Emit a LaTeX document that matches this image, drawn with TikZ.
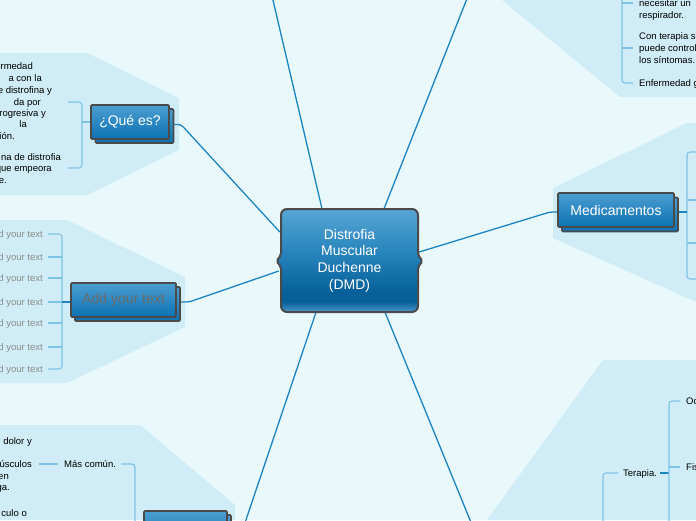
\documentclass[tikz,border=0pt]{standalone}
\usepackage{fontspec}
\setmainfont{Liberation Sans}
\usetikzlibrary{calc}
\definecolor{bgc}{HTML}{E9F9FB}
\definecolor{panel}{HTML}{D0ECF6}
\definecolor{conn}{HTML}{1C84C3}
\definecolor{brk}{HTML}{7FC3E4}
\definecolor{bord}{HTML}{4A4A4A}
\definecolor{boxtop}{HTML}{4C9ED0}
\definecolor{boxbot}{HTML}{0C72B3}
\definecolor{cband}{HTML}{4A98CA}
\definecolor{cdark}{HTML}{07609A}
\definecolor{cmid}{HTML}{2A86BE}
\definecolor{ctop}{HTML}{56A6D4}
\definecolor{addgray}{HTML}{6B6B6B}
\definecolor{itemgray}{HTML}{8C8C8C}
\pgfdeclareverticalshading{centershade}{100bp}{color(0bp)=(cband); color(25bp)=(cband); color(30bp)=(cdark); color(35bp)=(cdark); color(55bp)=(cmid); color(75bp)=(ctop); color(100bp)=(ctop)}
\pgfdeclarelayer{back}
\pgfsetlayers{back,main}
\tikzset{
  topic/.style={draw=bord, line width=1.6pt, top color=boxtop, bottom color=boxbot, rounded corners=1pt, inner sep=0pt, text=white, font=\fontsize{14}{16}\selectfont},
  conline/.style={draw=conn, line width=1.3pt, rounded corners=3pt},
  brline/.style={draw=brk, line width=1.1pt, rounded corners=3pt},
  darkstub/.style={draw=conn, line width=1.3pt},
  panelfill/.style={fill=panel},
  body/.style={font=\fontsize{9.5}{11}\selectfont, text=black, inner sep=0pt},
  item/.style={font=\fontsize{9.5}{11}\selectfont, text=itemgray, inner sep=0pt},
}
\begin{document}
\begin{tikzpicture}[x=1pt,y=-1pt]
\clip (0,0) rectangle (696,520);
% central topic
\shade[shading=centershade, draw=bord, line width=2pt]
  (300,209) [rounded corners=6pt] -- (418,209) -- (418,240) [rounded corners=2pt] -- (418,255) -- (422.5,261) -- (418,267) [rounded corners=6pt] -- (418,312) -- (281,312) -- (281,282) [rounded corners=2pt] -- (281,267) -- (276.5,261) -- (281,255) [rounded corners=6pt] -- (281,209) -- cycle;
\node[align=center, text=white, font=\fontsize{14}{16.7}\selectfont, minimum width=137pt, minimum height=103pt, inner sep=0pt] (c) at (349.5,260.5) {Distrofia\\Muscular\\Duchenne\\(DMD)};

% main topics (back copies first)
\node[topic, minimum width=78pt, minimum height=34pt] (qb) at (134.5,126) {};
\node[topic, minimum width=78pt, minimum height=34pt] (q) at (130,122) {¿Qué es?};
\node[topic, minimum width=105pt, minimum height=34pt] (ab) at (127.5,304) {};
\node[topic, minimum width=105pt, minimum height=34pt, text=addgray] (a) at (123.5,300) {Add your text};
\node[topic, minimum width=116pt, minimum height=34pt] (mb) at (620,214.5) {};
\node[topic, minimum width=116pt, minimum height=34pt] (m) at (616,210) {Medicamentos};
\node[topic, minimum width=83pt, minimum height=34pt] (bb) at (189.5,532) {};
\node[topic, minimum width=83pt, minimum height=34pt] (b) at (185.5,528) {};

% texts: ¿Qué es?
\node[body, anchor=base east] (q1) at (33,69) {ermedad};
\node[body, anchor=base east] (q2) at (42,81) {a con la};
\node[body, anchor=base east] (q3) at (52,93) {e distrofina y};
\node[body, anchor=base east] (q4) at (41,105) {da por};
\node[body, anchor=base east] (q5) at (46,116) {rogresiva y};
\node[body, anchor=base east] (q6) at (27,127) {la};
\node[body, anchor=base east] (q7) at (15,139) {ión.};
\node[body, anchor=base east] (q8) at (61,160) {na de distrofia};
\node[body, anchor=base east] (q9) at (52,171) {que empeora};
\node[body, anchor=base east] (q10) at (7,183) {te.};

% texts: Add your text
\foreach \yy [count=\i] in {237,260,281,305,326,350,372}{
  \node[item, anchor=base east] (ai\i) at (43,\yy) {Add your text};
}

% texts: top right
\node[body, anchor=base west] (r1) at (639,6) {necesitar un};
\node[body, anchor=base west] (r2) at (639,18) {respirador.};
\node[body, anchor=base west] (r3) at (639,39) {Con terapia se};
\node[body, anchor=base west] (r4) at (639,51) {puede controlar};
\node[body, anchor=base west] (r5) at (639,63) {los síntomas.};
\node[body, anchor=base west] (r6) at (639,86) {Enfermedad genética};

% texts: bottom left
\node[body, anchor=base east] (l1) at (32,444) {, dolor y};
\node[body, anchor=base east] (l2) at (32,467) {úsculos};
\node[body, anchor=base east] (l3) at (9,479) {en};
\node[body, anchor=base east] (l4) at (10,490) {ga.};
\node[body, anchor=base east] (l5) at (27,516) {culo o};
\node[body, anchor=base west] (mc) at (64,467) {Más común.};

% texts: bottom right
\node[body, anchor=base west] (tp) at (623,476) {Terapia.};
\node[body, anchor=base west] (oc) at (686,404) {Ocupacional};
\node[body, anchor=base west] (fi) at (686,470) {Fisioterapia};

\begin{pgfonlayer}{back}
\fill[bgc] (0,0) rectangle (696,520);
% panels
\fill[panelfill] (0,53) -- (87,53) -- (179,98) -- (179,150) -- (87,195) -- (0,195) -- cycle;
\fill[panelfill] (0,220) -- (67,220) -- (185,277) -- (185,327) -- (67,383) -- (0,383) -- cycle;
\fill[panelfill] (502,0) -- (620,97) -- (696,97) -- (696,0) -- cycle;
\fill[panelfill] (553,188) -- (687,123) -- (696,123) -- (696,302) -- (553,238) -- cycle;
\fill[panelfill] (0,425) -- (140,425) -- (235,505) -- (235,520) -- (0,520) -- cycle;
\fill[panelfill] (603,360) -- (696,360) -- (696,520) -- (487,520) -- cycle;
% connectors from the central topic
\coordinate (t1) at (272,-4);
\coordinate (t2) at (468,-4);
\coordinate (e6) at (239.2,540);
\coordinate (e7) at (478.2,540);
\draw[conline] ($(c.north)+(-27.5,0)$) -- (t1);
\draw[conline] ($(c.north)+(34.5,0)$) -- (t2);
\draw[conline] ($(c.west)+(-1,-28.5)$) -- (181,124.5) -- ($(qb.east)+(0,-1.5)$);
\draw[conline] ($(c.west)+(-2,10.5)$) -- (189,302) -- ($(ab.east)+(0,-2)$);
\draw[conline] ($(c.east)+(1,-8.5)$) -- (550,212) -- ($(m.west)+(0,2)$);
\draw[conline] ($(c.south)+(-33.5,0)$) -- (e6);
\draw[conline] ($(c.south)+(35.5,0)$) -- (e7);
% brackets: ¿Qué es?
\draw[brline] (68,102) -- (82,102) -- (82,168) -- (68,168);
\draw[brline] (q.west) -- (82,122);
% brackets: Add your text
\draw[brline] (48,234) -- (62,234) -- (62,369) -- (48,369);
\foreach \yy in {257,278,302,323,347}{ \draw[brline] (48,\yy) -- (62,\yy); }
\draw[darkstub] (62,302) -- (a.west |- 0,302);
% brackets: Medicamentos
\draw[brline] (697,152) -- (687,152) -- (687,279) -- (697,279);
\draw[brline] (687,200) -- (697,200);
\draw[brline] (687,243) -- (697,243);
\draw[darkstub] ($(mb.east)+(0,-2.5)$) -- (687,212);
% brackets: top right
\draw[brline] (622,-5) -- (622,83) -- (633,83);
\draw[brline] (622,3) -- (633,3);
\draw[brline] (622,48) -- (633,48);
% brackets: bottom left
\draw[brline] (39,464) -- (58,464);
\draw[brline] (121,464) -- (135,464) -- (135,525);
% brackets: bottom right
\draw[brline] (618,473) -- (603,473) -- (603,525);
\draw[darkstub] (660,473) -- (669,473);
\draw[brline] (680,401) -- (669,401) -- (669,525);
\draw[brline] (669,467) -- (680,467);
\end{pgfonlayer}
\end{tikzpicture}
\end{document}
